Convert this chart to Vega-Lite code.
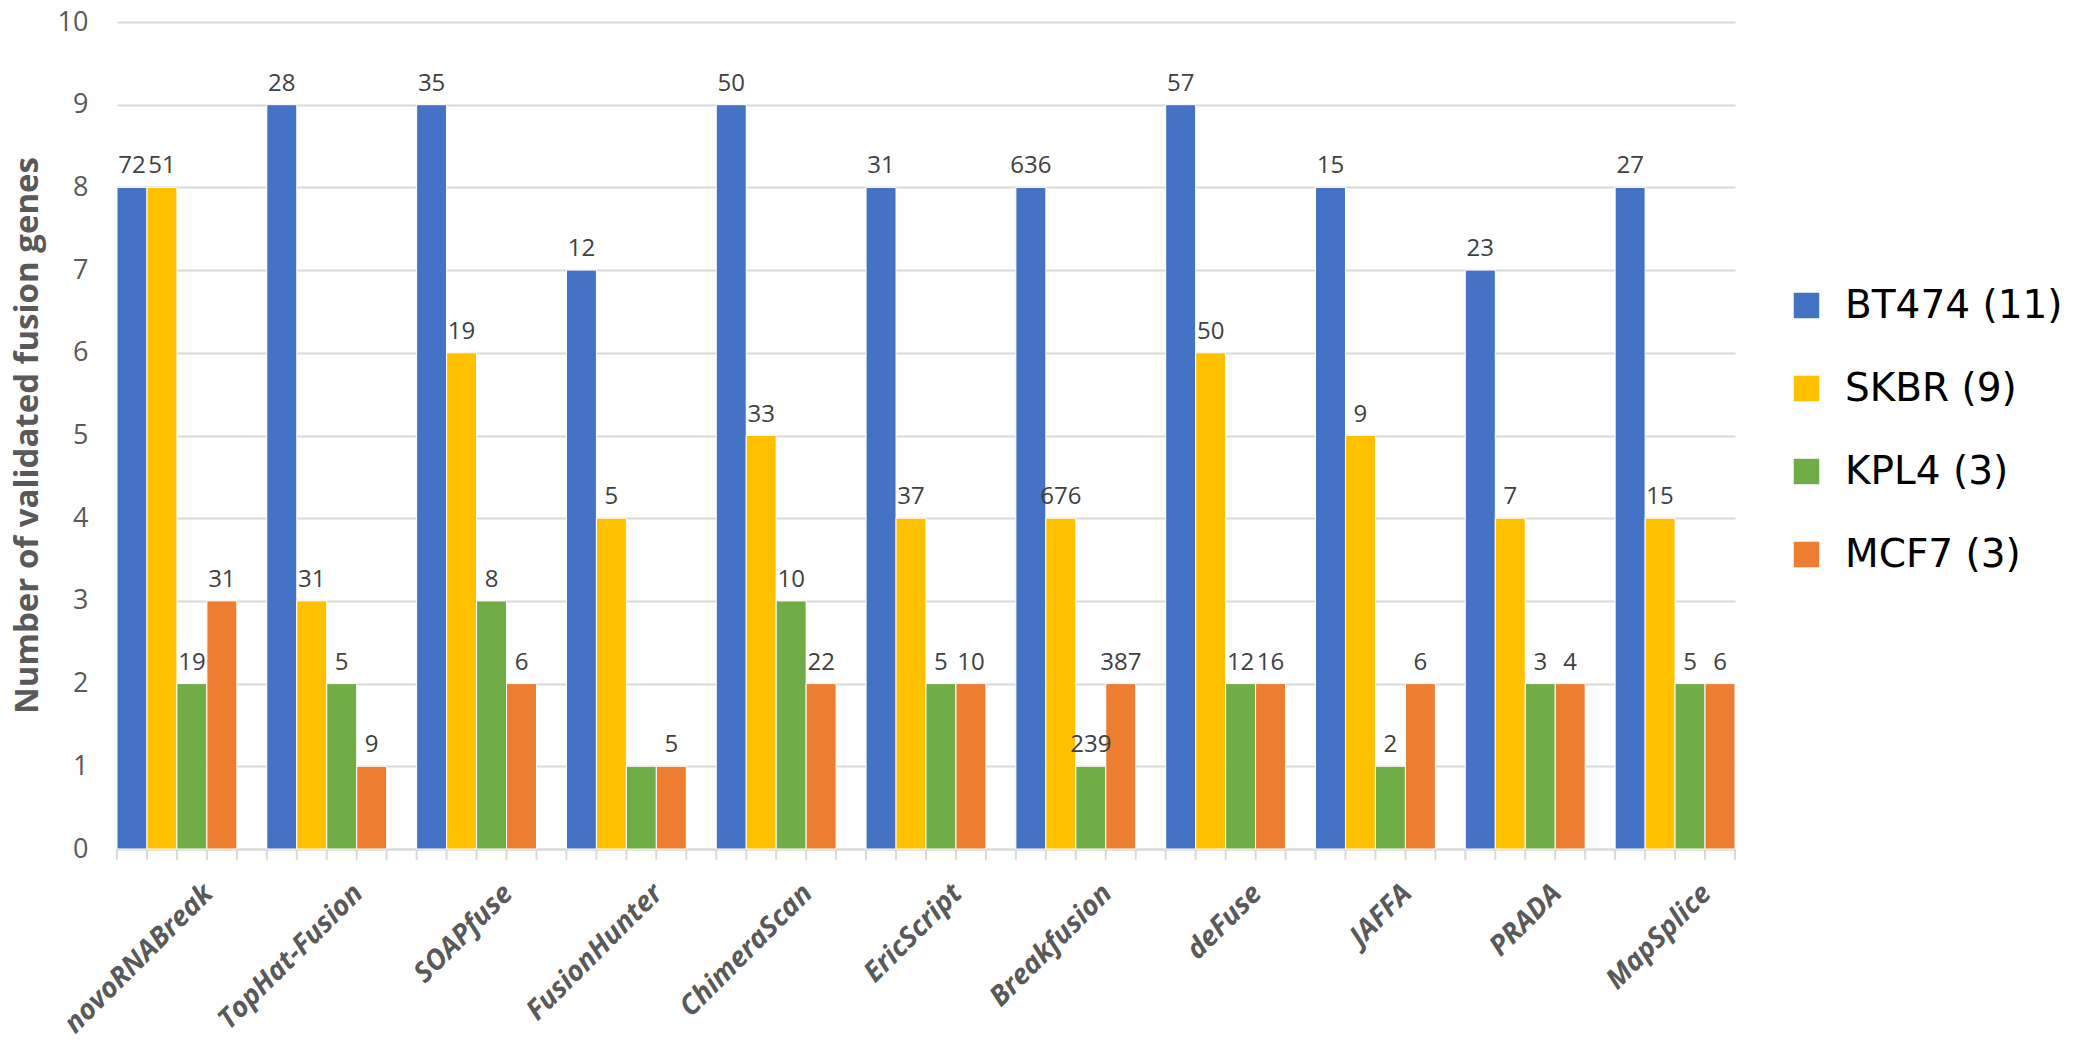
{
  "$schema": "https://vega.github.io/schema/vega-lite/v6.json",
  "width": 1618,
  "height": 827,
  "autosize": {"type": "none"},
  "padding": {"left": 117, "top": 22, "right": 365, "bottom": 211},
  "background": "white",
  "config": {
    "view": {"stroke": null},
    "font": "Open Sans"
  },
  "data": {
    "values": [
      {"tool": "novoRNABreak", "series": "BT474 (11)", "value": 8, "label": "72"},
      {"tool": "novoRNABreak", "series": "SKBR (9)", "value": 8, "label": "51"},
      {"tool": "novoRNABreak", "series": "KPL4 (3)", "value": 2, "label": "19"},
      {"tool": "novoRNABreak", "series": "MCF7 (3)", "value": 3, "label": "31"},
      {"tool": "TopHat-Fusion", "series": "BT474 (11)", "value": 9, "label": "28"},
      {"tool": "TopHat-Fusion", "series": "SKBR (9)", "value": 3, "label": "31"},
      {"tool": "TopHat-Fusion", "series": "KPL4 (3)", "value": 2, "label": "5"},
      {"tool": "TopHat-Fusion", "series": "MCF7 (3)", "value": 1, "label": "9"},
      {"tool": "SOAPfuse", "series": "BT474 (11)", "value": 9, "label": "35"},
      {"tool": "SOAPfuse", "series": "SKBR (9)", "value": 6, "label": "19"},
      {"tool": "SOAPfuse", "series": "KPL4 (3)", "value": 3, "label": "8"},
      {"tool": "SOAPfuse", "series": "MCF7 (3)", "value": 2, "label": "6"},
      {"tool": "FusionHunter", "series": "BT474 (11)", "value": 7, "label": "12"},
      {"tool": "FusionHunter", "series": "SKBR (9)", "value": 4, "label": "5"},
      {"tool": "FusionHunter", "series": "KPL4 (3)", "value": 1, "label": ""},
      {"tool": "FusionHunter", "series": "MCF7 (3)", "value": 1, "label": "5"},
      {"tool": "ChimeraScan", "series": "BT474 (11)", "value": 9, "label": "50"},
      {"tool": "ChimeraScan", "series": "SKBR (9)", "value": 5, "label": "33"},
      {"tool": "ChimeraScan", "series": "KPL4 (3)", "value": 3, "label": "10"},
      {"tool": "ChimeraScan", "series": "MCF7 (3)", "value": 2, "label": "22"},
      {"tool": "EricScript", "series": "BT474 (11)", "value": 8, "label": "31"},
      {"tool": "EricScript", "series": "SKBR (9)", "value": 4, "label": "37"},
      {"tool": "EricScript", "series": "KPL4 (3)", "value": 2, "label": "5"},
      {"tool": "EricScript", "series": "MCF7 (3)", "value": 2, "label": "10"},
      {"tool": "Breakfusion", "series": "BT474 (11)", "value": 8, "label": "636"},
      {"tool": "Breakfusion", "series": "SKBR (9)", "value": 4, "label": "676"},
      {"tool": "Breakfusion", "series": "KPL4 (3)", "value": 1, "label": "239"},
      {"tool": "Breakfusion", "series": "MCF7 (3)", "value": 2, "label": "387"},
      {"tool": "deFuse", "series": "BT474 (11)", "value": 9, "label": "57"},
      {"tool": "deFuse", "series": "SKBR (9)", "value": 6, "label": "50"},
      {"tool": "deFuse", "series": "KPL4 (3)", "value": 2, "label": "12"},
      {"tool": "deFuse", "series": "MCF7 (3)", "value": 2, "label": "16"},
      {"tool": "JAFFA", "series": "BT474 (11)", "value": 8, "label": "15"},
      {"tool": "JAFFA", "series": "SKBR (9)", "value": 5, "label": "9"},
      {"tool": "JAFFA", "series": "KPL4 (3)", "value": 1, "label": "2"},
      {"tool": "JAFFA", "series": "MCF7 (3)", "value": 2, "label": "6"},
      {"tool": "PRADA", "series": "BT474 (11)", "value": 7, "label": "23"},
      {"tool": "PRADA", "series": "SKBR (9)", "value": 4, "label": "7"},
      {"tool": "PRADA", "series": "KPL4 (3)", "value": 2, "label": "3"},
      {"tool": "PRADA", "series": "MCF7 (3)", "value": 2, "label": "4"},
      {"tool": "MapSplice", "series": "BT474 (11)", "value": 8, "label": "27"},
      {"tool": "MapSplice", "series": "SKBR (9)", "value": 4, "label": "15"},
      {"tool": "MapSplice", "series": "KPL4 (3)", "value": 2, "label": "5"},
      {"tool": "MapSplice", "series": "MCF7 (3)", "value": 2, "label": "6"}
    ]
  },
  "encoding": {
    "x": {
      "field": "tool",
      "type": "nominal",
      "sort": null,
      "scale": {"paddingInner": 0.2, "paddingOuter": 0},
      "axis": {
        "title": null,
        "labelAngle": -45,
        "labelAlign": "right",
        "labelBaseline": "middle",
        "labelOffset": 32,
        "ticks": false,
        "domain": true,
        "domainColor": "#D9D9D9",
        "domainWidth": 2,
        "labelPadding": 40,
        "labelFont": "Open Sans",
        "labelFontWeight": "bold",
        "labelFontStyle": "italic",
        "labelFontSize": 28,
        "labelColor": "#595959",
        "labelOverlap": false,
        "labelLimit": 0,
        "labelBound": false,
        "grid": false
      }
    }
  },
  "layer": [
    {
      "mark": {"type": "bar", "stroke": "white", "strokeWidth": 1},
      "encoding": {
        "xOffset": {
          "field": "series",
          "type": "nominal",
          "sort": ["BT474 (11)", "SKBR (9)", "KPL4 (3)", "MCF7 (3)"],
          "scale": {"paddingInner": 0, "paddingOuter": 0}
        },
        "y": {
          "field": "value",
          "type": "quantitative",
          "scale": {"domain": [0, 10], "nice": false},
          "axis": {
            "values": [0, 1, 2, 3, 4, 5, 6, 7, 8, 9, 10],
            "format": "d",
            "grid": true,
            "gridColor": "#D9D9D9",
            "gridWidth": 2,
            "domain": false,
            "ticks": false,
            "labelPadding": 29,
            "labelFont": "Open Sans",
            "labelFontSize": 27,
            "labelColor": "#595959",
            "title": "Number of validated fusion genes",
            "titleFont": "Open Sans",
            "titleFontWeight": "bold",
            "titleFontSize": 33,
            "titleColor": "#595959",
            "titleX": -90,
            "titleY": 413,
            "titleAngle": -90,
            "titleAlign": "center",
            "titleBaseline": "middle"
          }
        },
        "color": {
          "field": "series",
          "type": "nominal",
          "sort": ["BT474 (11)", "SKBR (9)", "KPL4 (3)", "MCF7 (3)"],
          "scale": {
            "domain": ["BT474 (11)", "SKBR (9)", "KPL4 (3)", "MCF7 (3)"],
            "range": ["#4472C4", "#FFC000", "#70AD47", "#ED7D31"]
          },
          "legend": {
            "title": null,
            "orient": "none",
            "legendX": 1670,
            "legendY": 264,
            "padding": 0,
            "symbolType": "square",
            "symbolSize": 650,
            "symbolStrokeWidth": 0,
            "labelFont": "DejaVu Sans",
            "labelFontSize": 39,
            "labelColor": "#000000",
            "labelOffset": 19,
            "rowPadding": 43,
            "labelLimit": 0
          }
        }
      }
    },
    {
      "mark": {"type": "text", "baseline": "alphabetic", "align": "center", "dy": -14, "font": "Open Sans", "fontSize": 24, "color": "#404040"},
      "encoding": {
        "xOffset": {
          "field": "series",
          "type": "nominal",
          "sort": ["BT474 (11)", "SKBR (9)", "KPL4 (3)", "MCF7 (3)"],
          "scale": {"paddingInner": 0, "paddingOuter": 0}
        },
        "y": {"field": "value", "type": "quantitative"},
        "text": {"field": "label"}
      }
    },
    {
      "transform": [{"filter": "datum.series === 'BT474 (11)'"}],
      "mark": {"type": "rule", "color": "#D9D9D9", "strokeWidth": 2},
      "encoding": {
        "x": {"field": "tool", "type": "nominal", "sort": null, "bandPosition": 0},
        "y": {"datum": 0},
        "y2": {"datum": -0.13}
      }
    },
    {
      "transform": [{"filter": "datum.series === 'BT474 (11)'"}],
      "mark": {"type": "rule", "color": "#D9D9D9", "strokeWidth": 2},
      "encoding": {
        "x": {"field": "tool", "type": "nominal", "sort": null, "bandPosition": 0.25},
        "y": {"datum": 0},
        "y2": {"datum": -0.13}
      }
    },
    {
      "transform": [{"filter": "datum.series === 'BT474 (11)'"}],
      "mark": {"type": "rule", "color": "#D9D9D9", "strokeWidth": 2},
      "encoding": {
        "x": {"field": "tool", "type": "nominal", "sort": null, "bandPosition": 0.5},
        "y": {"datum": 0},
        "y2": {"datum": -0.13}
      }
    },
    {
      "transform": [{"filter": "datum.series === 'BT474 (11)'"}],
      "mark": {"type": "rule", "color": "#D9D9D9", "strokeWidth": 2},
      "encoding": {
        "x": {"field": "tool", "type": "nominal", "sort": null, "bandPosition": 0.75},
        "y": {"datum": 0},
        "y2": {"datum": -0.13}
      }
    },
    {
      "transform": [{"filter": "datum.series === 'BT474 (11)'"}],
      "mark": {"type": "rule", "color": "#D9D9D9", "strokeWidth": 2},
      "encoding": {
        "x": {"field": "tool", "type": "nominal", "sort": null, "bandPosition": 1},
        "y": {"datum": 0},
        "y2": {"datum": -0.13}
      }
    }
  ]
}
